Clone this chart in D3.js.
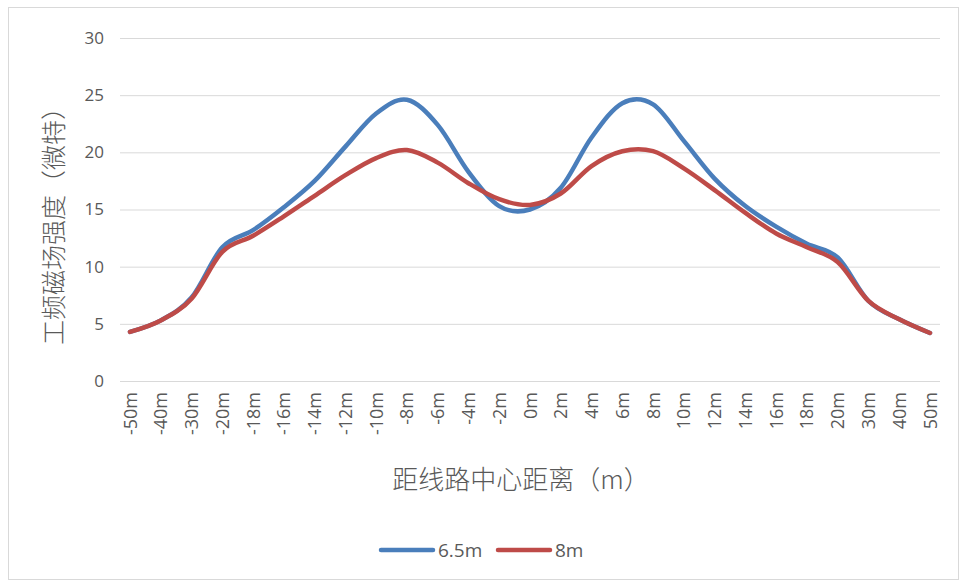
<!DOCTYPE html>
<html>
<head>
<meta charset="utf-8">
<script src="https://cdn.jsdelivr.net/npm/d3@7"></script>
<style>
  body { margin: 0; background: #fff; }
  text { font-family: "Open Sans", "Noto Sans CJK SC", sans-serif; fill: #595959; }
</style>
</head>
<body>
<svg id="chart" width="963" height="586"></svg>
<script>
// categories along the x axis (distance from line centre)
const categories = ['-50m','-40m','-30m','-20m','-18m','-16m','-14m','-12m','-10m','-8m','-6m','-4m','-2m','0m',
  '2m','4m','6m','8m','10m','12m','14m','16m','18m','20m','30m','40m','50m'];

// series values
const h65 = [4.3, 5.3, 7.3, 11.7, 13.2, 15.2, 17.5, 20.5, 23.4, 24.6, 22.4, 18.3, 15.3, 15.0,
  16.9, 21.3, 24.3, 24.2, 21.0, 17.7, 15.3, 13.5, 12.0, 10.8, 7.0, 5.4, 4.2];
const h8 = [4.3, 5.3, 7.2, 11.3, 12.7, 14.4, 16.2, 18.0, 19.5, 20.2, 19.1, 17.3, 15.9, 15.4,
  16.4, 18.8, 20.1, 20.1, 18.6, 16.7, 14.7, 12.9, 11.7, 10.4, 7.0, 5.4, 4.2];

const seriesNames = ['6.5m', '8m'];
const seriesColors = ['#4a7ebb', '#be4b48'];
const yTicks = [0, 5, 10, 15, 20, 25, 30];

const svg = d3.select('#chart');

// chart frame
svg.append('rect').attr('x', 8.5).attr('y', 7.5).attr('width', 950).attr('height', 572)
  .attr('fill', 'none').attr('stroke', '#d9d9d9');

const x = d3.scalePoint().domain(categories).range([130, 930]);
const y = d3.scaleLinear().domain([0, 30]).range([381, 38]);

// gridlines
svg.append('g').selectAll('line').data(yTicks).join('line')
  .attr('x1', 120).attr('x2', 940)
  .attr('y1', d => y(d) + 0.5).attr('y2', d => y(d) + 0.5)
  .attr('stroke', '#d9d9d9').attr('stroke-width', 1);

// y axis labels
const yAxis = svg.append('g').attr('transform', 'translate(104,0)')
  .call(d3.axisLeft(y).tickValues(yTicks).tickSize(0).tickPadding(0));
yAxis.select('.domain').remove();
yAxis.selectAll('text').attr('font-size', 17).style('fill', '#595959')
  .style('font-family', '"Open Sans", sans-serif');

// x axis labels (rotated)
const xAxis = svg.append('g').attr('transform', 'translate(0,392)')
  .call(d3.axisBottom(x).tickSize(0).tickPadding(0));
xAxis.select('.domain').remove();
xAxis.selectAll('text')
  .attr('font-size', 18).style('fill', '#595959').style('font-family', '"Open Sans", sans-serif')
  .attr('text-anchor', 'end').attr('dy', null).attr('y', 0)
  .attr('transform', 'rotate(-90) translate(0,6)');

// axis titles
svg.append('text').attr('transform', 'translate(63,220) rotate(-90)')
  .attr('text-anchor', 'middle').attr('font-size', 25).attr('font-weight', 300)
  .style('font-family', '"Noto Sans CJK SC", sans-serif')
  .text('工频磁场强度（微特）');
svg.append('text').attr('x', 521).attr('y', 489)
  .attr('text-anchor', 'middle').attr('font-size', 26).attr('font-weight', 300)
  .style('font-family', '"Noto Sans CJK SC", sans-serif')
  .text('距线路中心距离（m）');

// lines
const line = d3.line()
  .x((d, i) => x(categories[i]))
  .y(d => y(d))
  .curve(d3.curveCardinal.tension(0));

[h65, h8].forEach((vals, k) => {
  svg.append('path').datum(vals)
    .attr('d', line)
    .attr('fill', 'none')
    .attr('stroke', seriesColors[k])
    .attr('stroke-width', 4.5)
    .attr('stroke-linecap', 'round')
    .attr('stroke-linejoin', 'round');
});

// legend
const legendX = [381, 498];
seriesNames.forEach((name, k) => {
  const g = svg.append('g').attr('transform', `translate(${legendX[k]},550)`);
  g.append('line').attr('x1', 0).attr('x2', 52).attr('y1', 0).attr('y2', 0)
    .attr('stroke', seriesColors[k]).attr('stroke-width', 4.5).attr('stroke-linecap', 'round');
  g.append('text').attr('x', 57).attr('y', 7).attr('font-size', 19).text(name);
});
</script>
</body>
</html>
